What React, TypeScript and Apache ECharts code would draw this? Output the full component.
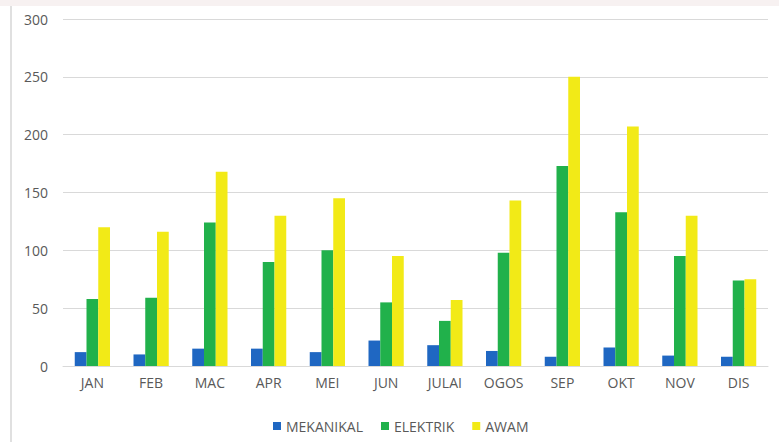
import React, { useEffect, useRef } from "react";
import * as echarts from "echarts";

const categories = ["JAN", "FEB", "MAC", "APR", "MEI", "JUN", "JULAI", "OGOS", "SEP", "OKT", "NOV", "DIS"];
const mekanikal = [12, 10, 15, 15, 12, 22, 18, 13, 8, 16, 9, 8];
const elektrik = [58, 59, 124, 90, 100, 55, 39, 98, 173, 133, 95, 74];
const awam = [120, 116, 168, 130, 145, 95, 57, 143, 250, 207, 130, 75];
const seriesNames = ["MEKANIKAL", "ELEKTRIK", "AWAM"];
const seriesColors = ["#1f67c2", "#21b14b", "#f2ea17"];

export default function App() {
  const ref = useRef<HTMLDivElement>(null);
  useEffect(() => {
    if (!ref.current) return;
    const chart = echarts.init(ref.current, null, { renderer: "svg" });
    const data = [mekanikal, elektrik, awam];
    chart.setOption({
      animation: false,
      backgroundColor: "#ffffff",
      textStyle: { fontFamily: "Open Sans" },
      graphic: [
        { type: "rect", shape: { x: 0, y: 0, width: 779, height: 6 }, style: { fill: "#f7f1f1" }, silent: true },
        { type: "line", shape: { x1: 11, y1: 6, x2: 11, y2: 442 }, style: { stroke: "#d6d6d6", lineWidth: 1.5 }, silent: true },
      ],
      grid: { left: 63, right: 11, top: 19, bottom: 76, containLabel: false },
      legend: {
        data: seriesNames,
        left: 268,
        top: 414,
        itemWidth: 8,
        itemHeight: 8,
        itemGap: 18,
        icon: "rect",
        textStyle: { color: "#595959", fontSize: 14, fontFamily: "Open Sans" },
      },
      xAxis: {
        type: "category",
        data: categories,
        axisLine: { lineStyle: { color: "#d9d9d9" } },
        axisTick: { show: false },
        axisLabel: { color: "#595959", fontSize: 14, margin: 9, interval: 0 },
      },
      yAxis: {
        type: "value",
        min: 0,
        max: 300,
        interval: 50,
        axisLine: { show: false },
        axisTick: { show: false },
        axisLabel: { color: "#595959", fontSize: 14, margin: 15 },
        splitLine: { lineStyle: { color: "#d9d9d9" } },
      },
      series: seriesNames.map((name, i) => ({
        name,
        type: "bar",
        data: data[i],
        barWidth: "20%",
        barGap: "0%",
        itemStyle: { color: seriesColors[i] },
      })),
    });
    return () => chart.dispose();
  }, []);
  return <div ref={ref} style={{ position: "fixed", left: 0, top: 0, width: 779, height: 442 }} />;
}
